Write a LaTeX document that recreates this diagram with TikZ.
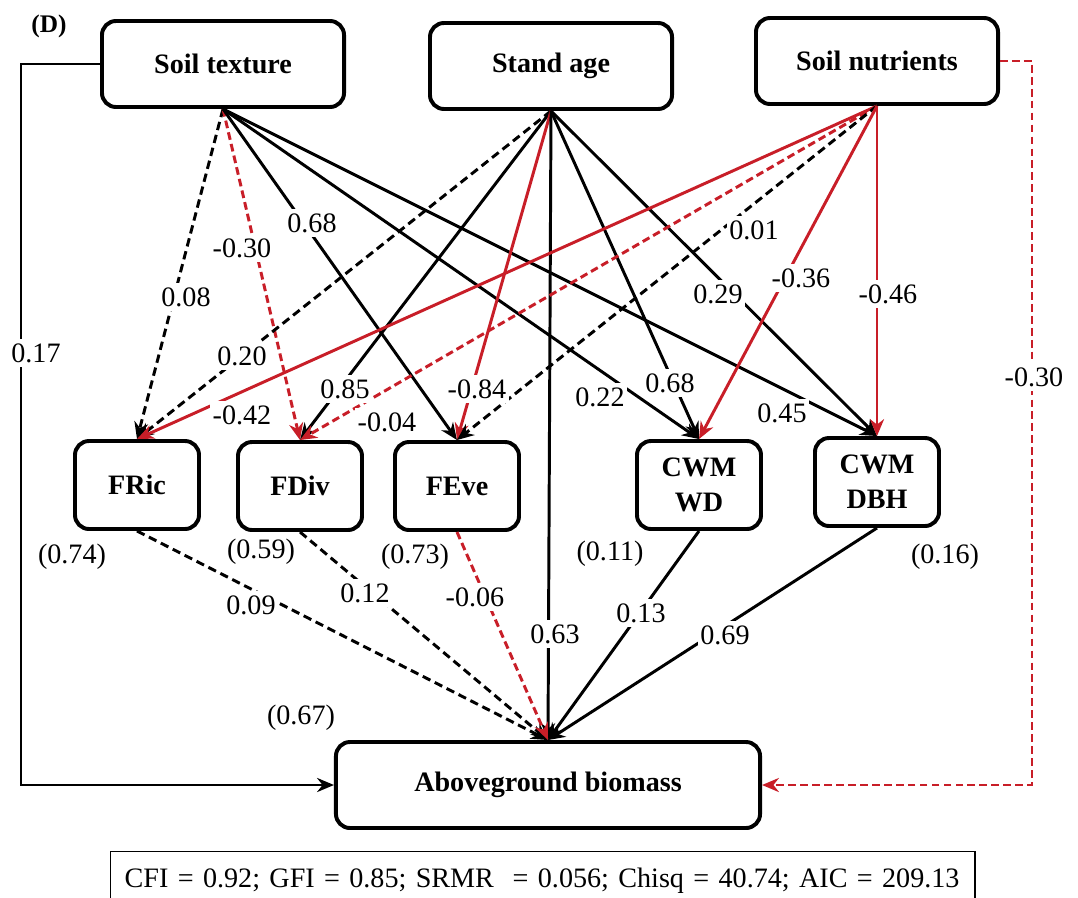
\documentclass[tikz,border=0pt]{standalone}
\usepackage{fontspec}
\setmainfont{Liberation Serif}
\usepackage{xcolor}
\definecolor{pathred}{RGB}{200,30,40}
\usepackage{tikz}
\usetikzlibrary{positioning,arrows.meta}

\begin{document}
\begin{tikzpicture}[x=0.025cm, y=-0.025cm,
  font=\fontsize{20}{25}\selectfont,
  varbox/.style={draw, line width=2.8pt, rounded corners=10pt,
    font=\fontsize{20}{25}\selectfont\bfseries, align=center, inner sep=0pt},
  topbox/.style={varbox, minimum width=6.05cm, minimum height=2.15cm},
  traitbox/.style={varbox, minimum width=3.1cm, minimum height=2.2cm},
  link/.style={line width=2.1pt, -{Stealth[length=12pt,width=10pt]}},
  sigpos/.style={link, black},
  signeg/.style={link, pathred},
  nspos/.style={link, black, dash pattern=on 6pt off 3.5pt},
  nsneg/.style={link, pathred, dash pattern=on 5.5pt off 3pt},
  coef/.style={fill=white, inner xsep=2pt, inner ysep=3pt},
  rsq/.style={inner sep=1pt}]
  \useasboundingbox (0,0) rectangle (1078,897);
  \clip (0,0) rectangle (1078,897);
  % Variables exogenes
  \node[font=\fontsize{18}{20}\selectfont\bfseries] (panel) at (49,26) {(D)};
  \node[topbox] (st) at (223,64) {Soil texture};
  \node[topbox] (sa) at (551,66) {Stand age};
  \node[topbox] (sn) at (877,61) {Soil nutrients};
  % Traits fonctionnels
  \node[traitbox] (fric) at (137,485) {FRic};
  \node[traitbox] (fdiv) at (300,486) {FDiv};
  \node[traitbox] (feve) at (457,486) {FEve};
  \node[traitbox] (wd) at (699,485) {CWM\\WD};
  \node[traitbox] (dbh) at (877,482) {CWM\\DBH};
  % Biomasse
  \node[varbox, minimum width=10.6cm, minimum height=2.15cm] (agb) at (548,785)
    {Aboveground biomass};
  % Indices d'ajustement
  \node[draw, line width=1pt, anchor=north west, inner xsep=0.35cm,
    text width=20.9cm, minimum height=1.45cm, align=left] (fit) at (110,851)
    {CFI = 0.92; GFI = 0.85; SRMR \ = 0.056; Chisq = 40.74; AIC = 209.13};

  % Chemins depuis Soil texture
  \draw[nspos] (st.south) -- (fric.north);
  \draw[nsneg] (st.south) -- (fdiv.north);
  \draw[sigpos] (st.south) -- (feve.north);
  \draw[sigpos] (st.south) -- (wd.north);
  \draw[sigpos] (st.south) -- (dbh.north);
  \draw[sigpos] (st.west) -- ++(-79,0) |- (agb.west);
  % Chemins depuis Stand age
  \draw[nspos] (sa.south) -- (fric.north);
  \draw[sigpos] (sa.south) -- (fdiv.north);
  \draw[signeg] (sa.south) -- (feve.north);
  \draw[sigpos] (sa.south) -- (wd.north);
  \draw[sigpos] (sa.south) -- (dbh.north);
  \draw[sigpos] (sa.south) -- (agb.north);
  % Chemins depuis Soil nutrients
  \draw[signeg] (sn.south) -- (fric.north);
  \draw[nsneg] (sn.south) -- (fdiv.north);
  \draw[nspos] (sn.south) -- (feve.north);
  \draw[signeg] (sn.south) -- (wd.north);
  \draw[signeg] (sn.south) -- (dbh.north);
  \draw[nsneg] (sn.east) -- ++(32,0) |- (agb.east);
  % Traits vers la biomasse
  \draw[nspos] (fric.south) -- (agb.north);
  \draw[nspos] (fdiv.south) -- (agb.north);
  \draw[nsneg] (feve.south) -- (agb.north);
  \draw[sigpos] (wd.south) -- (agb.north);
  \draw[sigpos] (dbh.south) -- (agb.north);

  % Coefficients
  \node[coef] (c1) at (36,353) {0.17};
  \node[coef] (c2) at (186,297) {0.08};
  \node[coef] (c3) at (242,248) {-0.30};
  \node[coef] (c4) at (312,223) {0.68};
  \node[coef] (c5) at (242,356) {0.20};
  \node[coef] (c6) at (242,415) {-0.42};
  \node[coef] (c7) at (345,389) {0.85};
  \node[coef] (c8) at (387,422) {-0.04};
  \node[coef] (c9) at (477,389) {-0.84};
  \node[coef] (c10) at (600,397) {0.22};
  \node[coef] (c11) at (670,383) {0.68};
  \node[coef] (c12) at (782,413) {0.45};
  \node[coef] (c13) at (718,294) {0.29};
  \node[coef] (c14) at (754,230) {0.01};
  \node[coef] (c15) at (801,278) {-0.36};
  \node[coef] (c16) at (888,294) {-0.46};
  \node[coef] (c17) at (1034,377) {-0.30};
  \node[coef] (c18) at (251,605) {0.09};
  \node[coef] (c19) at (365,593) {0.12};
  \node[coef] (c20) at (475,597) {-0.06};
  \node[coef] (c21) at (555,634) {0.63};
  \node[coef] (c22) at (641,613) {0.13};
  \node[coef] (c23) at (725,635) {0.69};
  % R2
  \node[rsq] (r1) at (72,557) {(0.74)};
  \node[rsq] (r2) at (261,552) {(0.59)};
  \node[rsq] (r3) at (415,557) {(0.73)};
  \node[rsq] (r4) at (610,554) {(0.11)};
  \node[rsq] (r5) at (945,557) {(0.16)};
  \node[rsq] (r6) at (301,718) {(0.67)};
\end{tikzpicture}
\end{document}
